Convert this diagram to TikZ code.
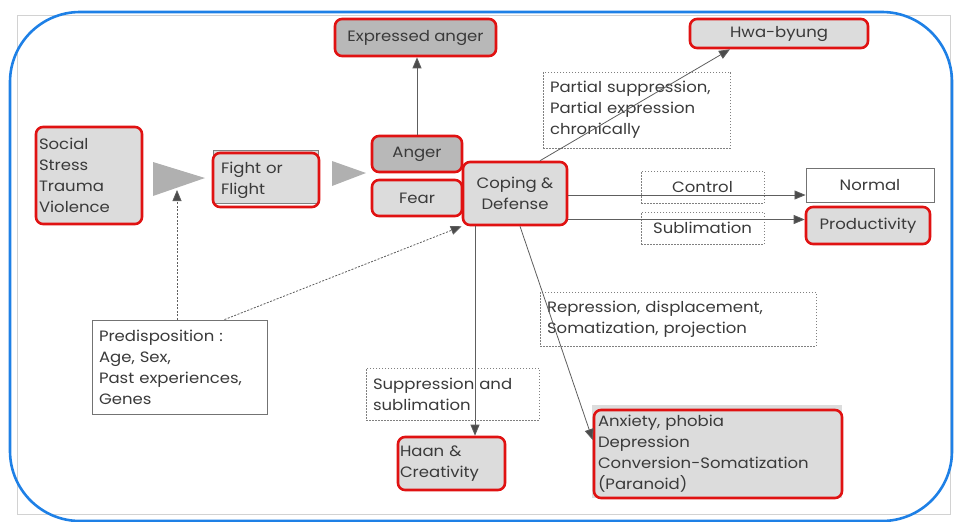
\documentclass[tikz,border=0pt]{standalone}
\usepackage{fontspec}
\setmainfont{Poppins}[FakeStretch=1.1]
\usetikzlibrary{arrows.meta,calc}
\definecolor{boxgray}{HTML}{DCDCDC}
\definecolor{boxdark}{HTML}{B8B8B8}
\definecolor{redb}{HTML}{E01212}
\definecolor{bluef}{HTML}{1E80E6}
\definecolor{lineg}{HTML}{5E5E5E}
\definecolor{txt}{HTML}{3A3A3A}
\definecolor{trig}{HTML}{B0B0B0}
\begin{document}
\begin{tikzpicture}[x=1pt,y=-1pt,
  font=\fontsize{15}{21}\selectfont, text=txt,
  redbox/.style={draw=redb, line width=2.6pt, rounded corners=7pt, fill=boxgray, inner sep=0pt},
  dotbox/.style={draw=gray, dash pattern=on 1.5pt off 1.5pt, line width=0.8pt, inner sep=0pt},
  plainbox/.style={draw=gray!90!black, line width=0.9pt, fill=white, inner sep=0pt},
  conn/.style={draw=lineg, line width=0.8pt, -{Triangle[length=11pt,width=9pt,fill=lineg!80!black]}},
  dconn/.style={conn, dash pattern=on 2pt off 1.5pt},
  tri/.style={fill=trig}
]
\useasboundingbox (0,0) rectangle (956,522);
% page edge
\draw[gray!35, line width=1pt] (17,15) rectangle (950,514);
% blue frame
\draw[bluef, line width=2.6pt, rounded corners=70pt] (10,12) rectangle (952,521);

% gray backing shapes
\filldraw[fill=boxgray, draw=gray, line width=0.8pt] (213,150) rectangle (318,203);
\fill[boxgray] (592,405) rectangle (842,498);

% nodes
\node[redbox, minimum width=106, minimum height=97, text width=100, align=left] (social) at (89,175.5)
  {Social\\Stress\\Trauma\\Violence};
\node[redbox, fill=none, minimum width=106, minimum height=54, text width=90, align=left] (fight) at (266,180)
  {Fight or\\Flight};
\node[redbox, fill=boxdark, minimum width=90, minimum height=36] (anger) at (417,154) {Anger};
\node[redbox, minimum width=90, minimum height=36] (fear) at (417,198) {Fear};
\node[redbox, minimum width=104, minimum height=63, align=center] (coping) at (515,193.5) {Coping \&\\Defense};
\node[redbox, fill=boxdark, minimum width=161, minimum height=37] (expr) at (415.5,37.5) {Expressed anger};
\node[redbox, minimum width=178, minimum height=29] (hwa) at (779,33.5) {Hwa-byung};
\node[plainbox, minimum width=128, minimum height=34] (normal) at (870,185) {Normal};
\node[redbox, minimum width=124, minimum height=37] (prod) at (868,225.5) {Productivity};
\node[dotbox, minimum width=187, minimum height=76, text width=173, align=left] (partial) at (636.5,110)
  {Partial suppression,\\Partial expression\\chronically};
\node[dotbox, minimum width=123, minimum height=32] (control) at (702.5,187) {Control};
\node[dotbox, minimum width=123, minimum height=32] (subl) at (702.5,228) {Sublimation};
\node[plainbox, minimum width=175, minimum height=94, text width=161, align=left] (pred) at (179.5,367)
  {Predisposition :\\Age, Sex,\\Past experiences,\\Genes};
\node[dotbox, minimum width=173, minimum height=52, text width=159, align=left] (supp) at (452.5,394)
  {Suppression and\\sublimation};
\node[redbox, minimum width=107, minimum height=53, text width=103, align=left] (haan) at (451.5,463.5)
  {Haan \&\\Creativity};
\node[dotbox, minimum width=276, minimum height=54, text width=262, align=left] (repr) at (678,319)
  {Repression, displacement,\\Somatization, projection};
\node[redbox, fill=none, minimum width=248, minimum height=88, text width=240, align=left] (anx) at (718,454)
  {Anxiety, phobia\\Depression\\Conversion-Somatization\\(Paranoid)};

% triangle arrows
\fill[tri] (153,162) -- (205,178) -- (153,196) -- cycle;
\fill[tri] (332,161) -- (366,173) -- (332,186) -- cycle;
\coordinate (t1b) at (177,190);

% connector end points
\coordinate (cpN) at ($(coping.north)+(25,0)$);
\coordinate (hwaS) at ($(hwa.south)+(-49,0)$);
\coordinate (cpE1) at ($(coping.east)+(0,1.5)$);
\coordinate (cpE2) at ($(coping.east)+(0,26)$);
\coordinate (cpS1) at ($(coping.south)+(-40,0)$);
\coordinate (cpS2) at ($(coping.south)+(5,0)$);
\coordinate (anxW) at ($(anx.west)+(0,-14)$);
\coordinate (predN) at ($(pred.north)+(45,0)$);

% connectors
\draw[conn] (anger.north) -- (anger.north |- expr.south);
\draw[conn] (cpN) -- (hwaS);
\draw[conn] (cpE1) -- (cpE1 -| normal.west);
\draw[conn] (cpE2) -- (cpE2 -| prod.west);
\draw[conn] (cpS1) -- (cpS1 |- haan.north);
\draw[conn] (cpS2) -- (anxW);
\draw[dconn] (pred.north -| t1b) -- (t1b);
\draw[dconn] (predN) -- (coping.south west);
\end{tikzpicture}
\end{document}
